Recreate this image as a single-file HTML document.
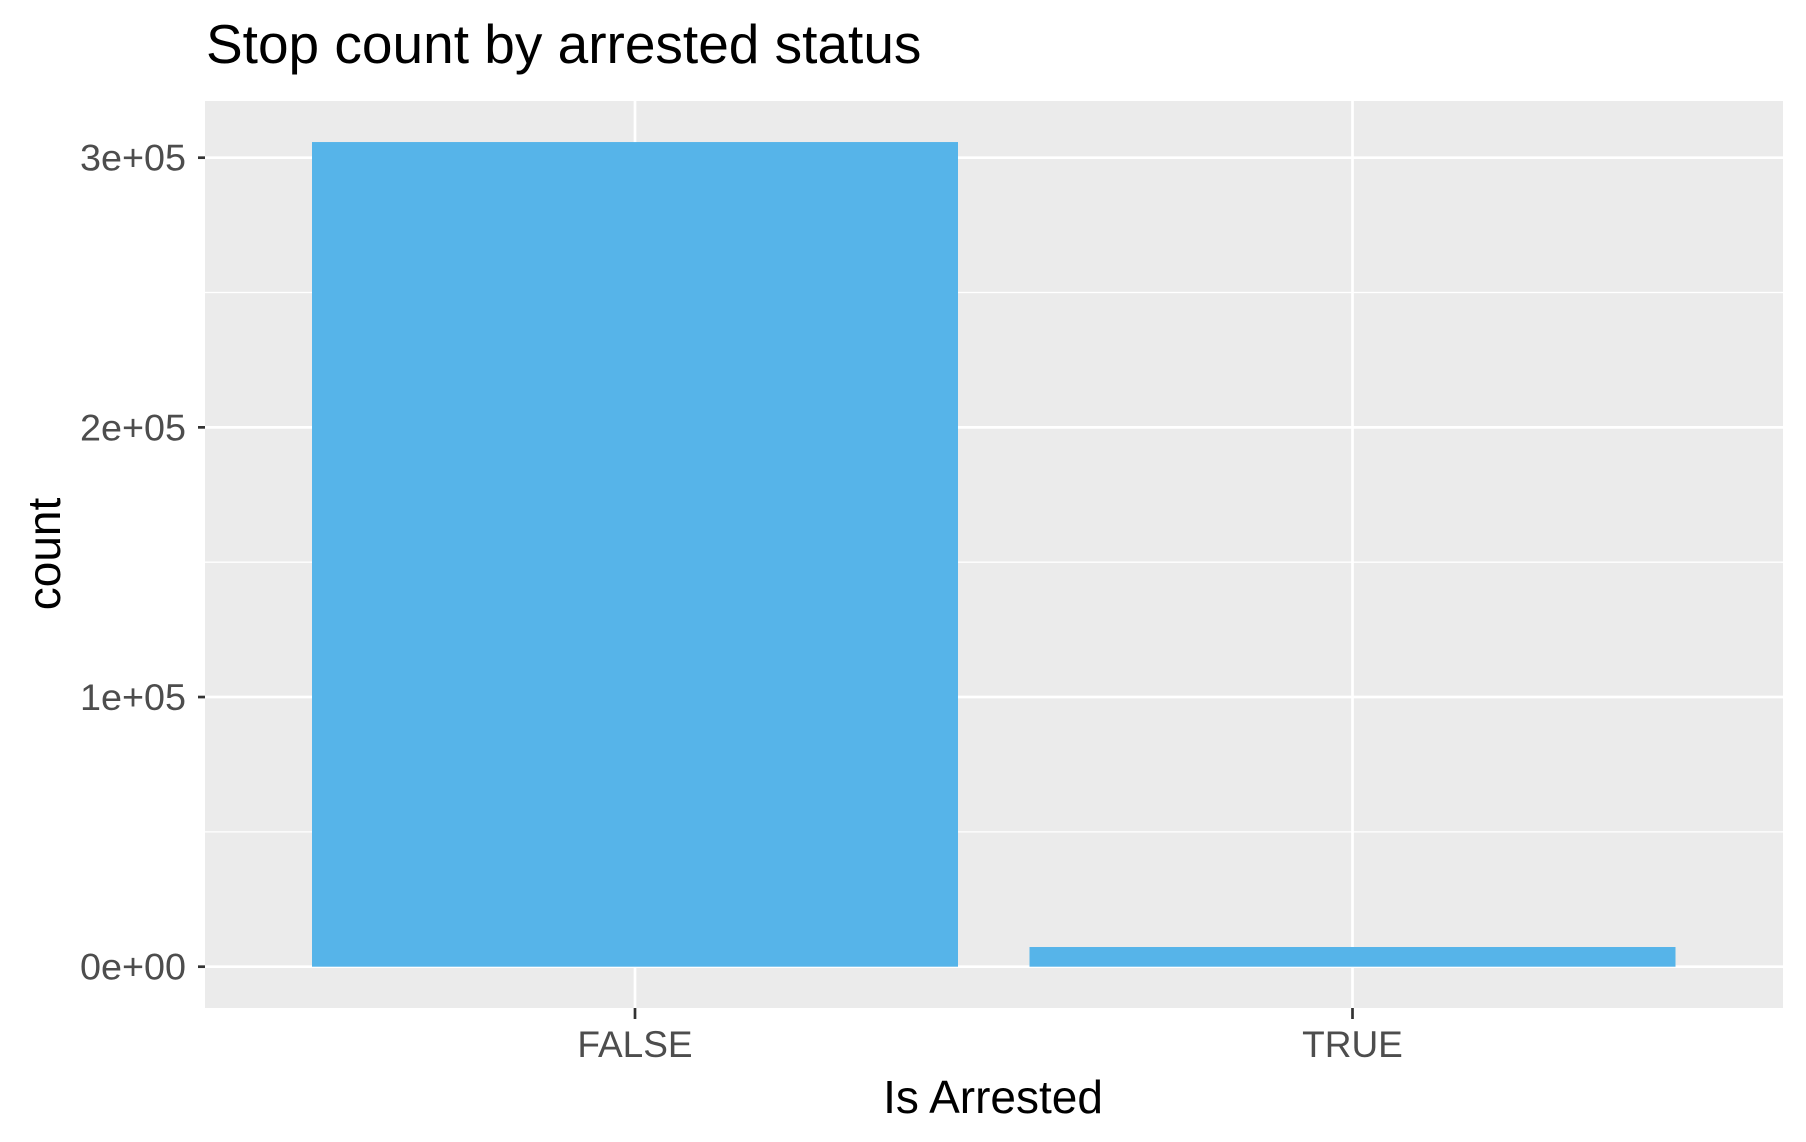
<!DOCTYPE html>
<html><head><meta charset="utf-8"><style>
body{margin:0;background:#fff;}
svg text{font-family:"Liberation Sans",Arial,sans-serif;}
</style></head><body>
<svg id="chart" width="1806" height="1137" xmlns="http://www.w3.org/2000/svg">
<text x="206" y="63" font-size="55" fill="#000">Stop count by arrested status</text>
<rect x="205" y="101" width="1578" height="907" fill="#ebebeb"/>
<g id="grid"></g>
<g id="bars"></g>
<g id="axes"></g>
<text x="993" y="1113" font-size="46" fill="#000" text-anchor="middle">Is Arrested</text>
<text transform="translate(60,554) rotate(-90)" font-size="46" fill="#000" text-anchor="middle">count</text>
</svg>
<script>
const categories = ["FALSE", "TRUE"];
const counts = [305800, 7300];
const yTicks = [0, 100000, 200000, 300000];
const yTickLabels = ["0e+00", "1e+05", "2e+05", "3e+05"];
const NS = "http://www.w3.org/2000/svg";
const y0 = 966.7, pxPer = 269.67 / 100000;
function yScale(v){ return y0 - v * pxPer; }
const left = 205, right = 1783, step = 717.5, firstX = 635;
function xScale(i){ return firstX + i * step; }
const barW = 646;
function mk(tag, attrs, parent){ const e=document.createElementNS(NS,tag); for(const k in attrs) e.setAttribute(k,attrs[k]); parent.appendChild(e); return e; }
const grid=document.getElementById('grid'), bars=document.getElementById('bars'), axes=document.getElementById('axes');
for(let i=0;i<yTicks.length-1;i++){
  const m=(yTicks[i]+yTicks[i+1])/2;
  const l=mk('line',{x1:left,x2:right,y1:yScale(m),y2:yScale(m),stroke:'#fff','stroke-width':1.3},grid);
  
  
}
yTicks.forEach((t,i)=>{
  const y=yScale(t);
  const l=mk('line',{x1:left,x2:right,y1:y,y2:y,stroke:'#fff','stroke-width':2.7},grid);
  
  
  const tk=mk('line',{x1:198,x2:205,y1:y,y2:y,stroke:'#333','stroke-width':2.7},axes);
  
  
  const tx=mk('text',{x:186,y:y+13,'font-size':37,fill:'#4d4d4d','text-anchor':'end',textLength:106,lengthAdjust:'spacingAndGlyphs'},axes);
  tx.textContent=yTickLabels[i];
  
  
});
categories.forEach((c,i)=>{
  const x=xScale(i);
  const l=mk('line',{x1:x,x2:x,y1:101,y2:1008,stroke:'#fff','stroke-width':2.7},grid);
  
  
  const b=mk('rect',{x:x-barW/2,y:yScale(counts[i]),width:barW,height:yScale(0)-yScale(counts[i]),fill:'#56b4e9'},bars);
  
  
  const tk=mk('line',{x1:x,x2:x,y1:1008,y2:1019,stroke:'#333','stroke-width':2.7},axes);
  
  
  const tx=mk('text',{x:x,y:1057,'font-size':37,fill:'#4d4d4d','text-anchor':'middle'},axes);
  tx.textContent=c;
  
  
});
</script>
</body></html>
